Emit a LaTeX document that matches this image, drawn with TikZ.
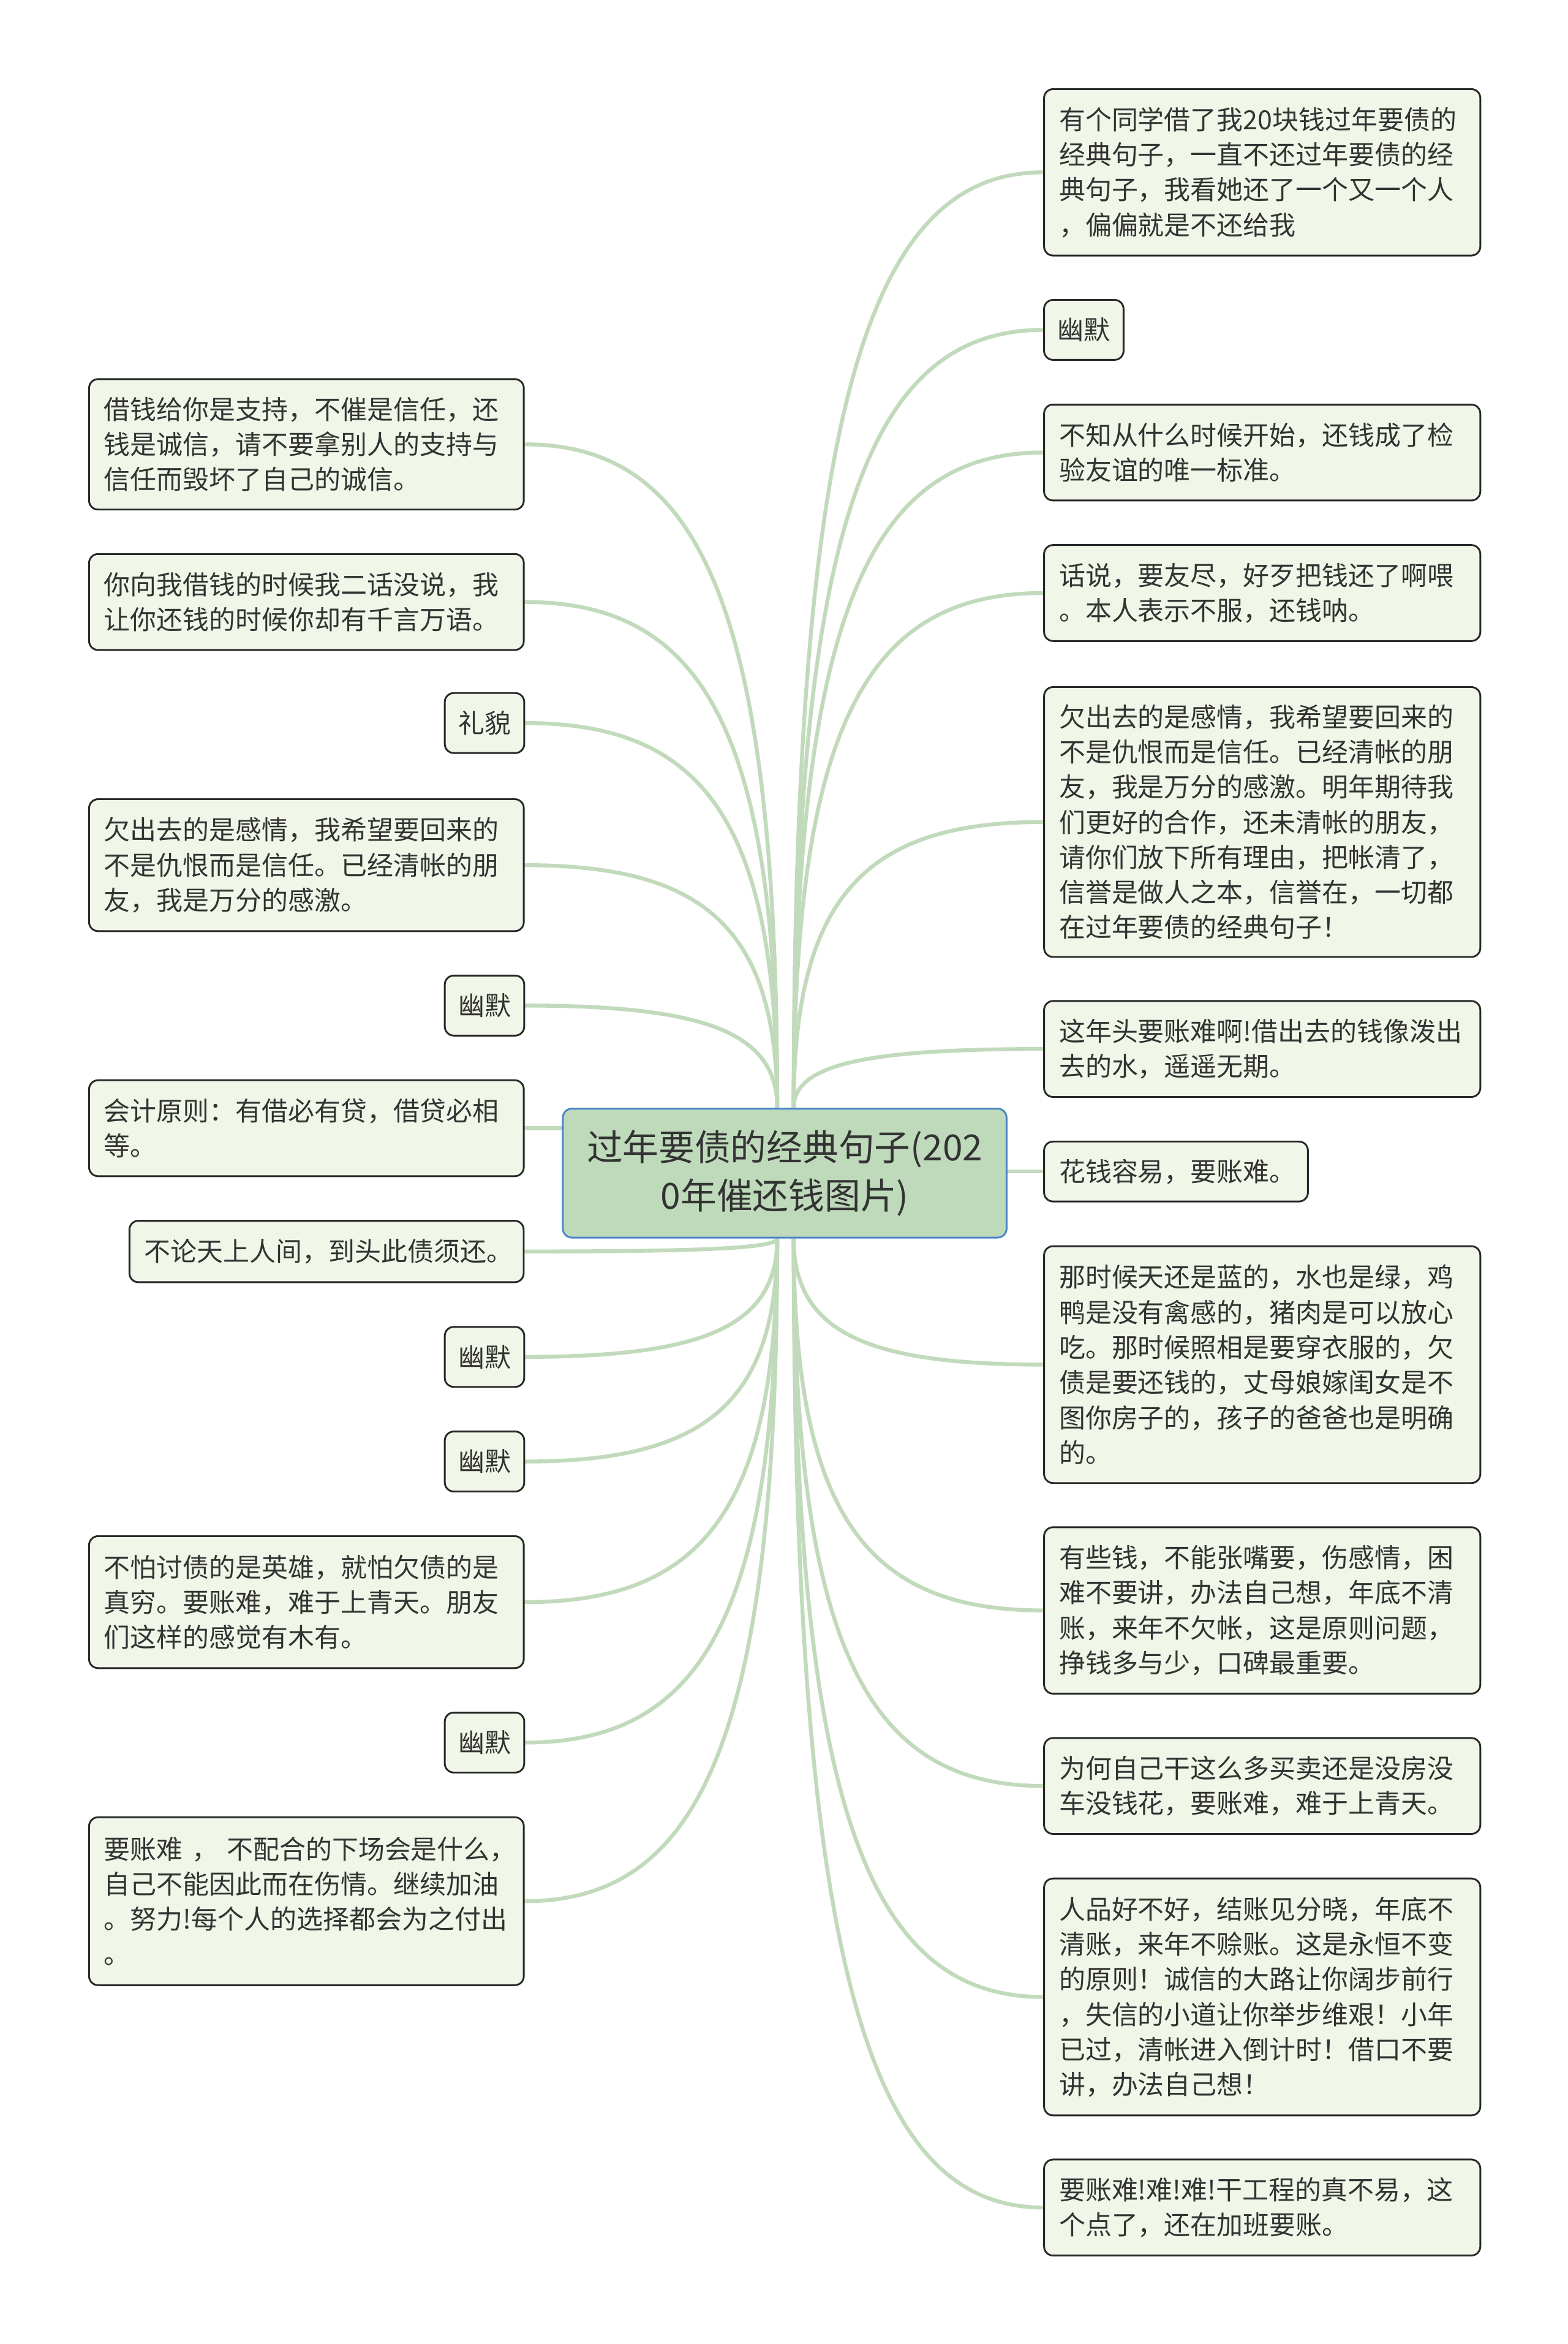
\documentclass[tikz,border=0pt]{standalone}
\usepackage{fontspec}
\setmainfont{Noto Sans CJK SC}
\usetikzlibrary{calc,backgrounds}
\definecolor{conncol}{RGB}{194,218,188}
\definecolor{leaffill}{RGB}{240,246,232}
\definecolor{rootfill}{RGB}{191,218,187}
\definecolor{rootdraw}{RGB}{74,134,200}
\definecolor{boxcol}{RGB}{40,40,40}
\definecolor{txtcol}{RGB}{51,51,51}
\newcommand\mmconn[2]{\draw[conn] let \p1=(#1), \p2=(#2) in (\p1) .. controls ($(\p1)!0.75!(\x1,\y2)$) and ($(\x1,\y2)!0.3!(\p2)$) .. (\p2);}
\begin{document}
\begin{tikzpicture}[x=0.997pt,y=-0.997pt,
  leaf/.style={draw=boxcol, line width=1.2pt, fill=leaffill, rounded corners=6pt, anchor=north west, inner xsep=10pt, inner ysep=0pt, align=left, font=\fontsize{17.55}{23.4}\selectfont, text=txtcol},
  tag/.style={draw=boxcol, line width=1.2pt, fill=leaffill, rounded corners=6pt, anchor=north west, inner xsep=0pt, inner ysep=0pt, align=center, font=\fontsize{17.55}{23.4}\selectfont, text=txtcol, minimum width=53pt, minimum height=40pt},
  rootbox/.style={draw=rootdraw, line width=1.2pt, fill=rootfill, rounded corners=6pt, anchor=north west, inner sep=0pt, align=center, font=\fontsize{24}{32}\selectfont, text=txtcol, minimum width=296pt, minimum height=86pt},
  conn/.style={draw=conncol, line width=2.6pt, line cap=round}]
\useasboundingbox (0,0) rectangle (1049.15,1568);

\node[rootbox] (root) at (376,741) {过年要债的经典句子(202\\0年催还钱图片)};

% right side
\node[leaf, minimum width=291pt, minimum height=111pt, text width=271pt] (r1) at (698,59) {有个同学借了我20块钱过年要债的\\经典句子，一直不还过年要债的经\\典句子，我看她还了一个又一个人\\，偏偏就是不还给我};
\node[tag] (r2) at (698,200) {幽默};
\node[leaf, minimum width=291pt, minimum height=64pt, text width=271pt] (r3) at (698,270) {不知从什么时候开始，还钱成了检\\验友谊的唯一标准。};
\node[leaf, minimum width=291pt, minimum height=64pt, text width=271pt] (r4) at (698,364) {话说，要友尽，好歹把钱还了啊喂\\。本人表示不服，还钱呐。};
\node[leaf, minimum width=291pt, minimum height=180pt, text width=271pt] (r5) at (698,459) {欠出去的是感情，我希望要回来的\\不是仇恨而是信任。已经清帐的朋\\友，我是万分的感激。明年期待我\\们更好的合作，还未清帐的朋友，\\请你们放下所有理由，把帐清了，\\信誉是做人之本，信誉在，一切都\\在过年要债的经典句子！};
\node[leaf, minimum width=291pt, minimum height=64pt, text width=271pt] (r6) at (698,669) {这年头要账难啊!借出去的钱像泼出\\去的水，遥遥无期。};
\node[leaf, minimum width=176pt, minimum height=40pt, text width=156pt] (r7) at (698,763) {花钱容易，要账难。};
\node[leaf, minimum width=291pt, minimum height=158pt, text width=271pt] (r8) at (698,833) {那时候天还是蓝的，水也是绿，鸡\\鸭是没有禽感的，猪肉是可以放心\\吃。那时候照相是要穿衣服的，欠\\债是要还钱的，丈母娘嫁闺女是不\\图你房子的，孩子的爸爸也是明确\\的。};
\node[leaf, minimum width=291pt, minimum height=111pt, text width=271pt] (r9) at (698,1021) {有些钱，不能张嘴要，伤感情，困\\难不要讲，办法自己想，年底不清\\账，来年不欠帐，这是原则问题，\\挣钱多与少，口碑最重要。};
\node[leaf, minimum width=291pt, minimum height=64pt, text width=271pt] (r10) at (698,1162) {为何自己干这么多买卖还是没房没\\车没钱花，要账难，难于上青天。};
\node[leaf, minimum width=291pt, minimum height=158pt, text width=271pt] (r11) at (698,1256) {人品好不好，结账见分晓，年底不\\清账，来年不赊账。这是永恒不变\\的原则！诚信的大路让你阔步前行\\，失信的小道让你举步维艰！小年\\已过，清帐进入倒计时！借口不要\\讲，办法自己想！};
\node[leaf, minimum width=291pt, minimum height=64pt, text width=271pt] (r12) at (698,1444) {要账难!难!难!干工程的真不易，这\\个点了，还在加班要账。};

% left side
\node[leaf, minimum width=290pt, minimum height=87pt, text width=270pt] (l1) at (59,253) {借钱给你是支持，不催是信任，还\\钱是诚信，请不要拿别人的支持与\\信任而毁坏了自己的诚信。};
\node[leaf, minimum width=290pt, minimum height=64pt, text width=270pt] (l2) at (59,370) {你向我借钱的时候我二话没说，我\\让你还钱的时候你却有千言万语。};
\node[tag] (l3) at (297,463) {礼貌};
\node[leaf, minimum width=290pt, minimum height=88pt, text width=270pt] (l4) at (59,534) {欠出去的是感情，我希望要回来的\\不是仇恨而是信任。已经清帐的朋\\友，我是万分的感激。};
\node[tag] (l5) at (297,652) {幽默};
\node[leaf, minimum width=290pt, minimum height=64pt, text width=270pt] (l6) at (59,722) {会计原则：有借必有贷，借贷必相\\等。};
\node[leaf, minimum width=263pt, minimum height=41pt, text width=243pt] (l7) at (86,816) {不论天上人间，到头此债须还。};
\node[tag] (l8) at (297,887) {幽默};
\node[tag] (l9) at (297,957) {幽默};
\node[leaf, minimum width=290pt, minimum height=88pt, text width=270pt] (l10) at (59,1027) {不怕讨债的是英雄，就怕欠债的是\\真穷。要账难，难于上青天。朋友\\们这样的感觉有木有。};
\node[tag] (l11) at (297,1145) {幽默};
\node[leaf, minimum width=290pt, minimum height=112pt, text width=270pt] (l12) at (59,1215) {\mbox{要账难 ， 不配合的下场会是什么，}\\自己不能因此而在伤情。继续加油\\。努力!每个人的选择都会为之付出\\。};

\coordinate (rtR) at ([xshift=6pt]root.north);
\coordinate (rtL) at ([xshift=-5pt]root.north);
\coordinate (rbR) at ([xshift=6pt]root.south);
\coordinate (rbL) at ([xshift=-5pt]root.south);

\begin{pgfonlayer}{background}
\mmconn{rtR}{r1.west}
\mmconn{rtR}{r2.west}
\mmconn{rtR}{r3.west}
\mmconn{rtR}{r4.west}
\mmconn{rtR}{r5.west}
\mmconn{rtR}{r6.west}
\draw[conn] (r7.west -| root.east) -- (r7.west);
\mmconn{rbR}{r8.west}
\mmconn{rbR}{r9.west}
\mmconn{rbR}{r10.west}
\mmconn{rbR}{r11.west}
\mmconn{rbR}{r12.west}
\mmconn{rtL}{l1.east}
\mmconn{rtL}{l2.east}
\mmconn{rtL}{l3.east}
\mmconn{rtL}{l4.east}
\mmconn{rtL}{l5.east}
\draw[conn] (l6.east -| root.west) -- (l6.east);
\mmconn{rbL}{l7.east}
\mmconn{rbL}{l8.east}
\mmconn{rbL}{l9.east}
\mmconn{rbL}{l10.east}
\mmconn{rbL}{l11.east}
\mmconn{rbL}{l12.east}
\end{pgfonlayer}
\end{tikzpicture}
\end{document}
